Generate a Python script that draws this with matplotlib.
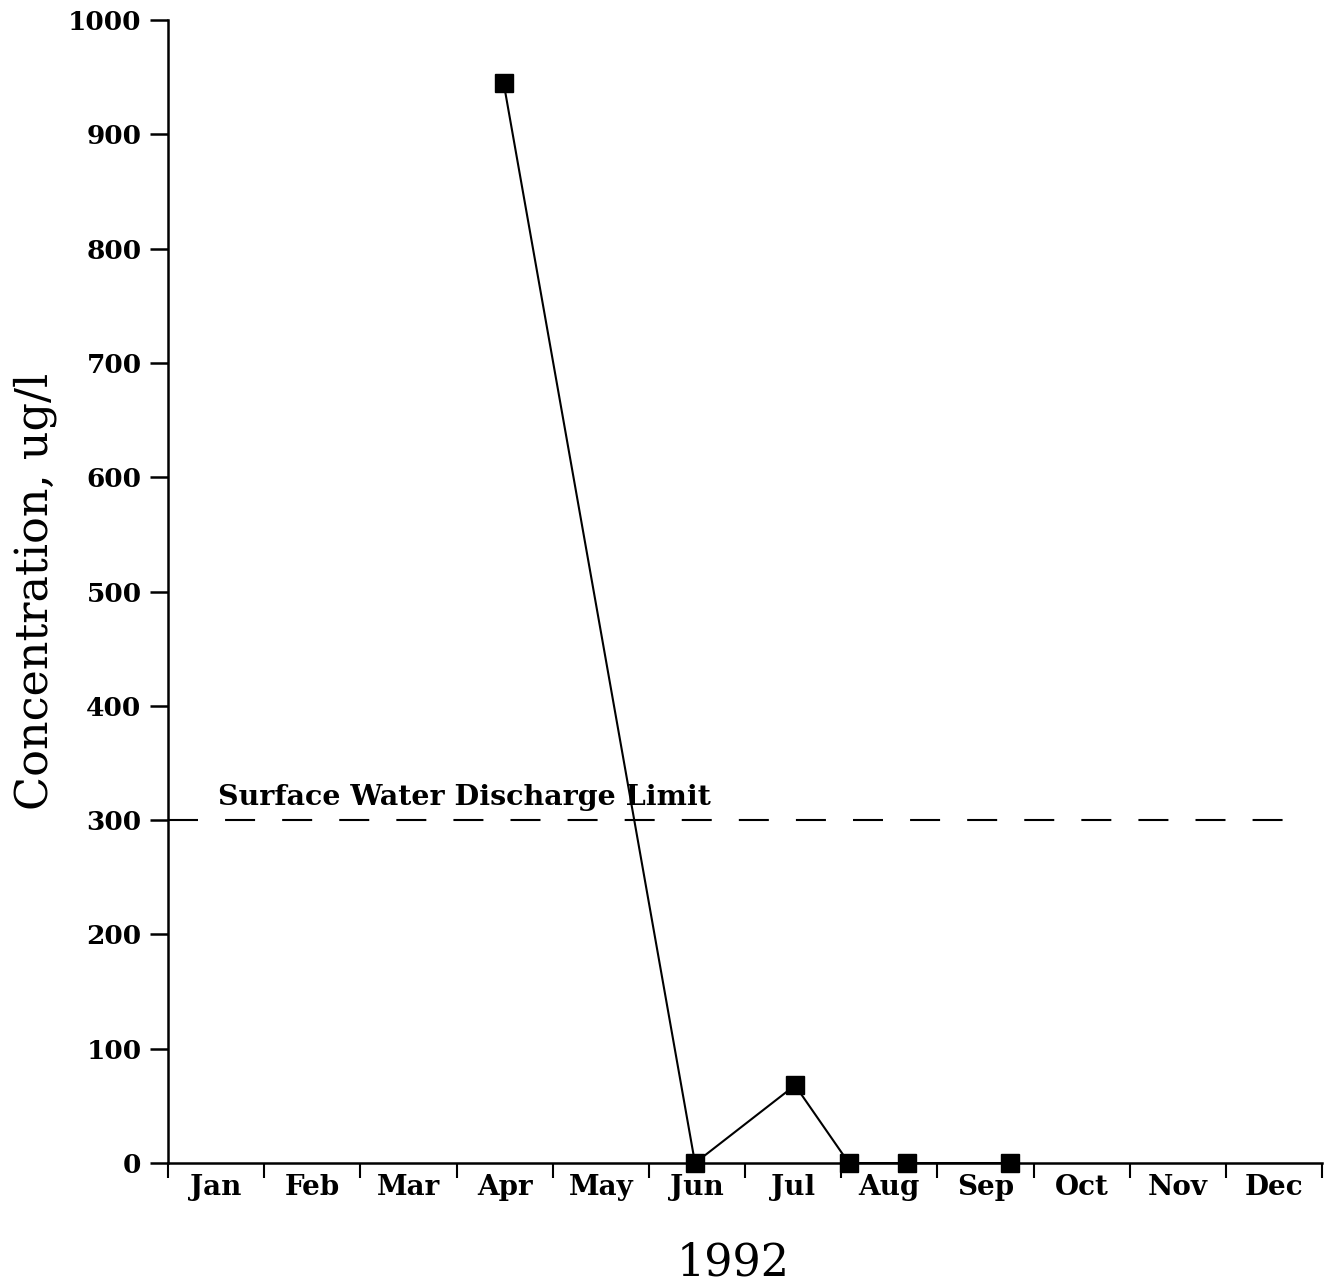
import matplotlib
matplotlib.use("Agg")
import matplotlib.pyplot as plt
import numpy as np

# Sampling dates expressed as fractional months since 1 Jan 1992
sample_month = [3.49, 5.48, 6.52, 7.08, 7.68, 8.76]
concentration = [945, 0, 68, 0, 0, 0]

month_labels = ["Jan", "Feb", "Mar", "Apr", "May", "Jun",
                "Jul", "Aug", "Sep", "Oct", "Nov", "Dec"]
y_ticks = [0, 100, 200, 300, 400, 500, 600, 700, 800, 900, 1000]

discharge_limit = 300
limit_label = "Surface Water Discharge Limit"
x_label = "1992"
y_label = "Concentration, ug/l"

plt.rcParams["font.family"] = ["DejaVu Serif"]

fig = plt.figure(figsize=(13.26, 12.83), dpi=100)
ax = fig.add_axes([0.1267, 0.0935, 0.8703, 0.8909])

ax.plot(sample_month, concentration, color="black", lw=1.5,
        marker="s", markersize=13, markerfacecolor="black",
        markeredgecolor="black", clip_on=False, zorder=3)

ax.plot([0, 11.72], [discharge_limit, discharge_limit], color="black",
        lw=1.5, dashes=(14.4, 13), clip_on=False)
ax.text(0.52, discharge_limit + 8, limit_label, fontsize=20.5,
        fontweight="bold", ha="left", va="bottom")

ax.set_xlim(0, 12)
ax.set_ylim(0, 1000)

ax.spines["top"].set_visible(False)
ax.spines["right"].set_visible(False)
ax.spines["left"].set_linewidth(1.8)
ax.spines["bottom"].set_linewidth(1.8)

ax.set_yticks(y_ticks)
ax.set_yticklabels([str(v) for v in y_ticks], fontsize=19, fontweight="bold")
ax.tick_params(axis="y", direction="out", length=13, width=1.8, pad=6)

ax.set_xticks(np.arange(0, 13))
ax.set_xticklabels([])
ax.set_xticks(np.arange(12) + 0.5, minor=True)
ax.set_xticklabels(month_labels, minor=True, fontsize=20, fontweight="bold")
ax.tick_params(axis="x", which="major", direction="out", length=11, width=1.5)
ax.tick_params(axis="x", which="minor", length=0, pad=8)

fig.text(733 / 1326, 1 - 1276 / 1283, x_label, fontsize=32,
         ha="center", va="baseline")
ax.set_ylabel(y_label, fontsize=32, labelpad=8)

fig.savefig("out.png", dpi=100, facecolor="white")
